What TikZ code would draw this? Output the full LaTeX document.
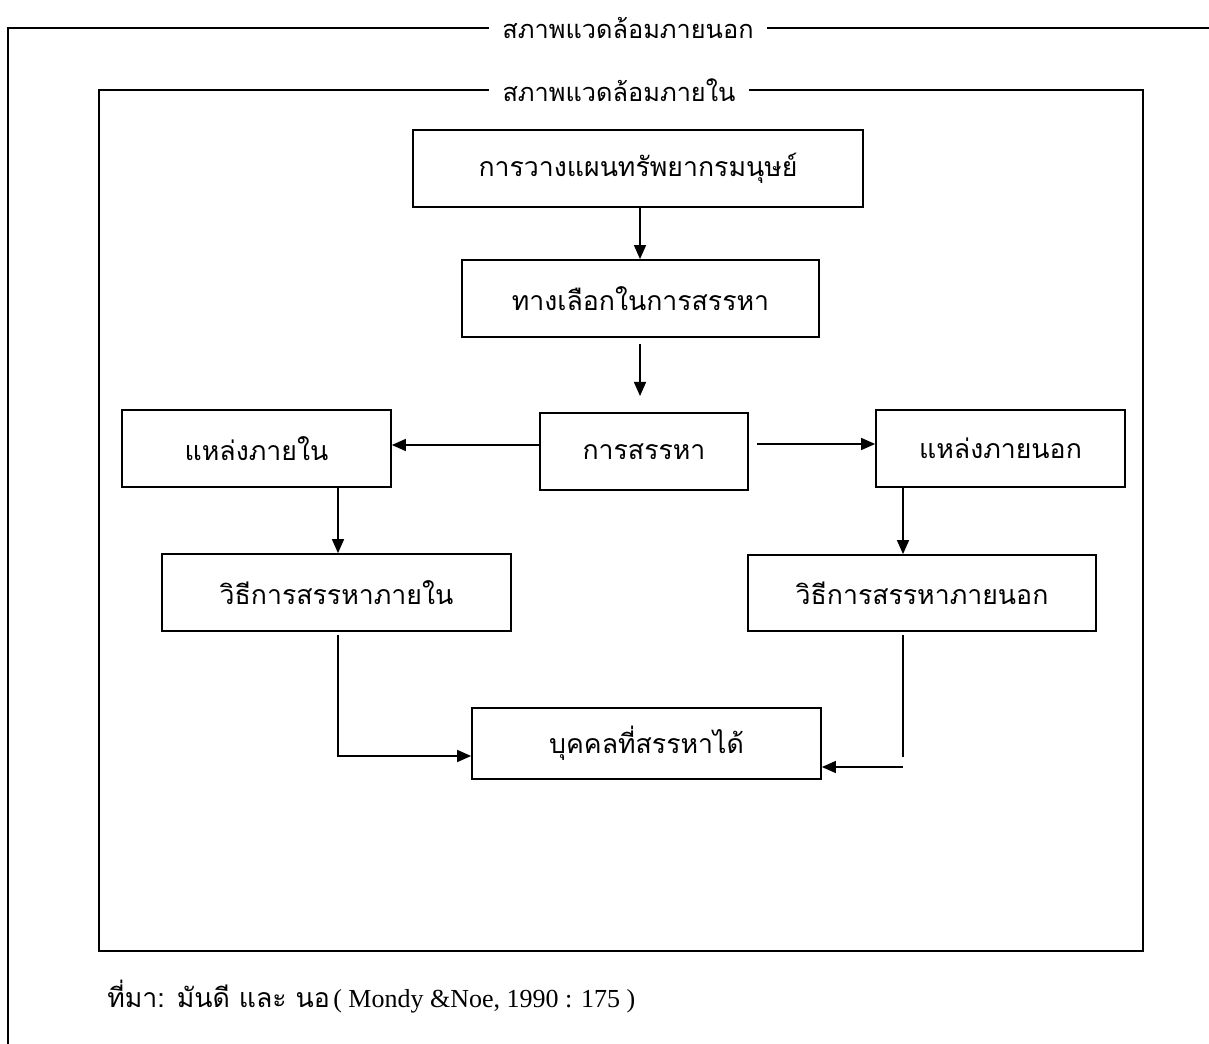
\documentclass[tikz,border=0pt]{standalone}
\usepackage{fontspec}
\setmainfont{Liberation Serif}
\newfontfamily\thaifont[Script=Thai]{Loma}
\usetikzlibrary{arrows.meta}
\begin{document}
\begin{tikzpicture}[x=0.75pt,y=-0.75pt,
  box/.style={draw,line width=1.3pt,rectangle,inner sep=0pt,font=\thaifont\fontsize{20}{24}\selectfont},
  conn/.style={line width=1.1pt},
  arr/.style={conn,-{Triangle[length=10.5pt,width=9pt]}},
  frame/.style={line width=1.3pt},
  ttl/.style={font=\thaifont\fontsize{19}{22}\selectfont,inner xsep=10pt,inner ysep=0pt}]
\useasboundingbox (0,0) rectangle (1209,1044);
% frames
\node[ttl] (ot) at (628,28) {สภาพแวดล้อมภายนอก};
\coordinate (oa) at (8,1044);
\coordinate (ob) at (8,28);
\coordinate (oc) at (1209,28);
\draw[frame] (oa) -- (ob) -- (ot.west);
\draw[frame] (ot.east) -- (oc);
\node[ttl] (it) at (619,90) {สภาพแวดล้อมภายใน};
\coordinate (ia) at (99,90);
\coordinate (ib) at (99,951);
\coordinate (ic) at (1143,951);
\coordinate (id) at (1143,90);
\draw[frame] (it.west) -- (ia) -- (ib) -- (ic) -- (id) -- (it.east);
% boxes
\node[box,minimum width=337.5pt,minimum height=57.75pt] (b1) at (638,168.5) {การวางแผนทรัพยากรมนุษย์};
\node[box,minimum width=267.75pt,minimum height=57.75pt] (b2) at (640.5,298.5) {ทางเลือกในการสรรหา};
\node[box,minimum width=156pt,minimum height=57.75pt] (b3) at (644,451.5) {การสรรหา};
\node[box,minimum width=201.75pt,minimum height=57.75pt] (b4) at (256.5,448.5) {แหล่งภายใน};
\node[box,minimum width=186.75pt,minimum height=57.75pt] (b5) at (1000.5,448.5) {แหล่งภายนอก};
\node[box,minimum width=261.75pt,minimum height=57.75pt] (b6) at (336.5,592.5) {วิธีการสรรหาภายใน};
\node[box,minimum width=261pt,minimum height=57pt] (b7) at (922,593) {วิธีการสรรหาภายนอก};
\node[box,minimum width=261.75pt,minimum height=53.25pt] (b8) at (646.5,743.5) {บุคคลที่สรรหาได้};
% connectors
\draw[arr] (b1.south -| 640,0) -- (b2.north -| 640,0);
\coordinate (p1) at (640,344);
\coordinate (p2) at (640,396);
\draw[arr] (p1) -- (p2);
\draw[arr] (b3.west |- 0,445) -- (b4.east |- 0,445);
\coordinate (p3) at (757,444);
\draw[arr] (p3) -- (b5.west |- p3);
\draw[arr] (b4.south -| 338,0) -- (b6.north -| 338,0);
\draw[arr] (b5.south -| 903,0) -- (b7.north -| 903,0);
\coordinate (p4) at (338,635);
\coordinate (p5) at (338,756);
\draw[arr] (p4) -- (p5) -- (b8.west |- p5);
\coordinate (p6) at (903,635);
\coordinate (p7) at (903,757);
\draw[conn] (p6) -- (p7);
\coordinate (p8) at (903,767);
\draw[arr] (p8) -- (b8.east |- p8);
% source
\node[anchor=base west,inner sep=0pt] (src) at (107,1007) {{\thaifont\fontsize{20}{24}\selectfont ที่มา: มันดี และ นอ} {\fontsize{19.5}{23}\selectfont( Mondy \&Noe, 1990 : 175 )}};
\end{tikzpicture}
\end{document}
